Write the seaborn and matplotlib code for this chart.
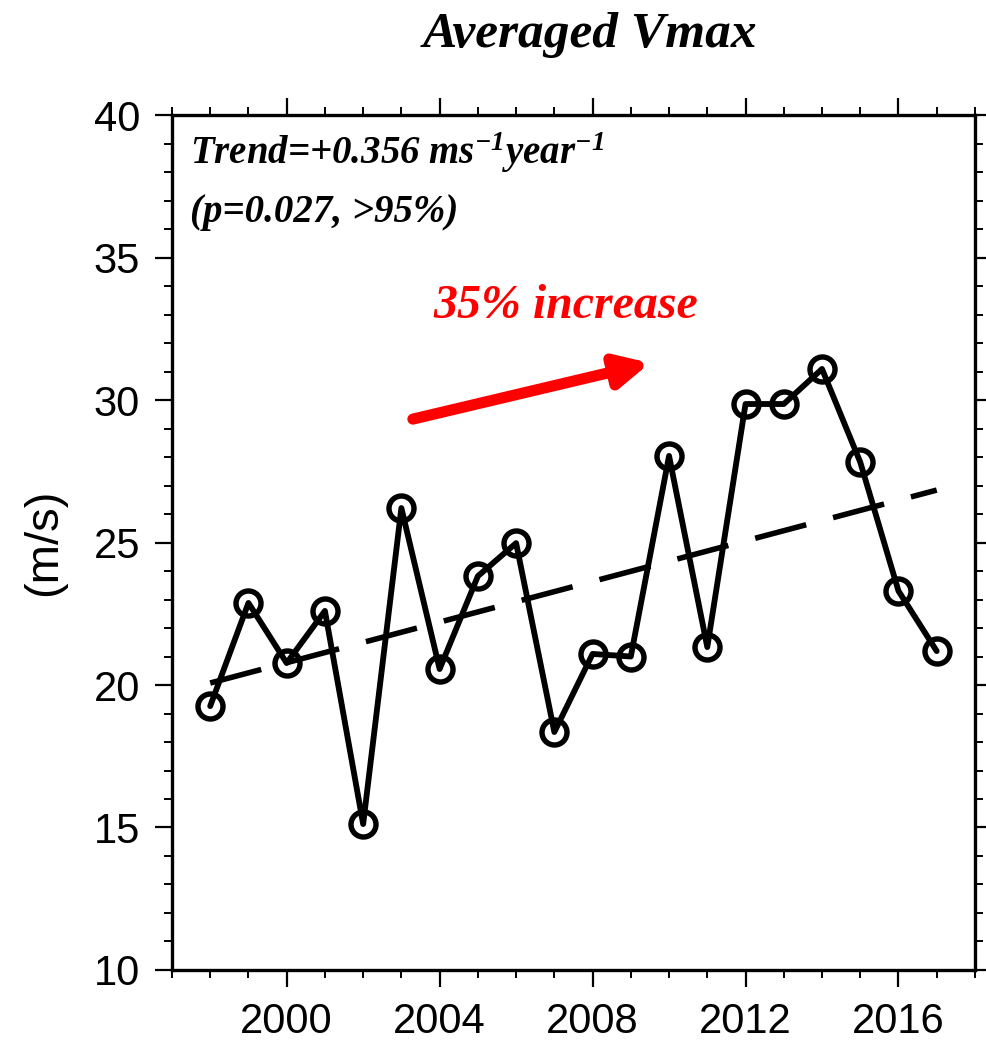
import numpy as np
import pandas as pd
import matplotlib
matplotlib.use("Agg")
import matplotlib.pyplot as plt
from matplotlib.ticker import MultipleLocator
import seaborn as sns

years = [1998, 1999, 2000, 2001, 2002, 2003, 2004, 2005, 2006, 2007,
         2008, 2009, 2010, 2011, 2012, 2013, 2014, 2015, 2016, 2017]
vmax = [19.26, 22.88, 20.77, 22.60, 15.12, 26.21, 20.56, 23.82, 24.98, 18.35,
        21.09, 21.00, 28.04, 21.33, 29.86, 29.86, 31.09, 27.82, 23.30, 21.19]
trend_years = [1998, 2017]
trend_vals = [20.07, 26.84]
x_ticks = [2000, 2004, 2008, 2012, 2016]
y_ticks = [10, 15, 20, 25, 30, 35, 40]

sns.set_theme(style="ticks")
plt.rcParams['font.family'] = ['Liberation Sans', 'DejaVu Sans']
plt.rcParams['text.color'] = 'black'
plt.rcParams['axes.labelcolor'] = 'black'
plt.rcParams['xtick.color'] = 'black'
plt.rcParams['ytick.color'] = 'black'
plt.rcParams['mathtext.fontset'] = 'custom'
plt.rcParams['mathtext.it'] = 'Liberation Serif:italic:bold'
plt.rcParams['mathtext.rm'] = 'Liberation Serif:italic:bold'
plt.rcParams['mathtext.default'] = 'it'

df = pd.DataFrame({"year": years, "vmax": vmax})

fig = plt.figure(figsize=(9.86, 10.43), dpi=100)
ax = fig.add_axes([0.1744, 0.070, 0.8144, 0.8197])

ax.plot(trend_years, trend_vals, color="black", lw=4.0, dashes=(9.5, 5), solid_capstyle='butt',
        dash_capstyle='butt', zorder=2)
sns.lineplot(data=df, x="year", y="vmax", ax=ax, color="black", lw=4.2,
             marker="o", markersize=18, markerfacecolor="none",
             markeredgecolor="black", markeredgewidth=3.9, zorder=3)

ax.set_xlim(1997, 2018)
ax.set_ylim(10, 40)
ax.set_xticks(x_ticks)
ax.set_yticks(y_ticks)
ax.xaxis.set_minor_locator(MultipleLocator(1))
ax.yaxis.set_minor_locator(MultipleLocator(1))
ax.tick_params(which='major', direction='out', length=12, width=1.6, labelsize=30,
               top=True, right=True, colors='black', pad=11)
ax.tick_params(which='minor', direction='out', length=6, width=1.4, top=True, right=True)
for s in ax.spines.values():
    s.set_visible(True)
    s.set_linewidth(2.4)
    s.set_color('black')

ax.set_xlabel("")
ax.set_ylabel("(m/s)", fontsize=34, labelpad=20, color='black')

# annotations
serif = ['Liberation Serif', 'DejaVu Serif']
ax.text(0.022, 0.982, "Trend=+0.356 ms$^{-1}$year$^{-1}$", transform=ax.transAxes,
        ha='left', va='top', fontsize=28, family=serif, fontweight='bold', fontstyle='italic',
        color='black')
ax.text(0.022, 0.908, "(p=0.027, >95%)", transform=ax.transAxes,
        ha='left', va='top', fontsize=28, family=serif, fontweight='bold', fontstyle='italic',
        color='black')
ax.text(2007.3, 33.3, "35% increase", ha='center', va='center', color='red',
        fontsize=34.5, family=serif, fontweight='bold', fontstyle='italic')
ax.annotate("", xy=(2009.5, 31.3), xytext=(2003.3, 29.33),
            arrowprops=dict(arrowstyle='-|>,head_length=1.6,head_width=0.8', color='red',
                            lw=8, shrinkA=0, shrinkB=0))

fig.text(0.598, 0.966, "Averaged Vmax", ha='center', va='center', fontsize=37,
         family=serif, fontweight='bold', fontstyle='italic', color='black')

fig.savefig("out.png", dpi=100, facecolor='white')
